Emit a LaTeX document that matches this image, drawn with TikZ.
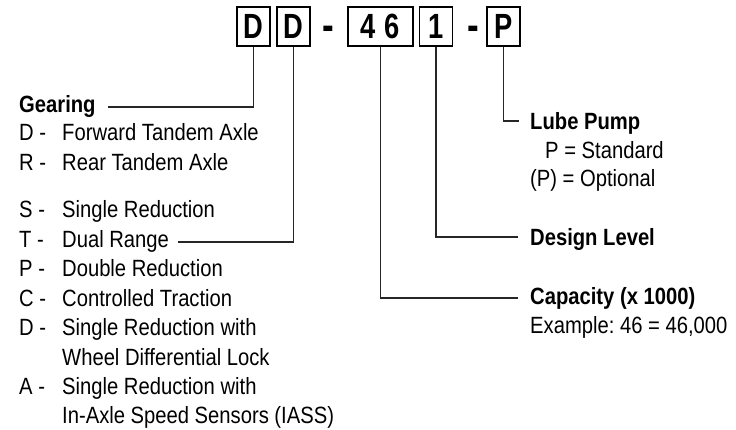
\documentclass[tikz,border=0pt]{standalone}
\usepackage{fontspec}
\setmainfont{Liberation Sans}[FakeStretch=0.86]
\newfontfamily\codefont{Liberation Sans}[FakeStretch=0.78]
\frenchspacing
\begin{document}
\begin{tikzpicture}[x=1pt,y=-1pt,
  lbl/.style={anchor=base west, inner sep=0pt, font=\fontsize{23.5}{28}\selectfont},
  hd/.style={anchor=base west, inner sep=0pt, font=\fontsize{23.5}{28}\selectfont\bfseries},
  codebox/.style={draw=black, line width=1.2pt, minimum height=39pt, minimum width=33pt, inner sep=0pt,
    font=\codefont\fontsize{35}{35}\selectfont\bfseries},
  codedash/.style={anchor=base, inner sep=0pt, font=\codefont\fontsize{45}{45}\selectfont\bfseries},
  conn/.style={draw=black!85, line width=1.2pt}]
\useasboundingbox (0,0) rectangle (736,430);
% code boxes
\node[codebox] (b1) at (253.5,26.5) {D};
\node[codebox] (b2) at (293.5,26.5) {D};
\node[codedash] (dash1) at (328,40.5) {-};
\node[codebox, minimum width=65pt] (b46) at (380.5,26.5) {4\hspace{9pt}6};
\node[codebox] (bl) at (436,26.5) {1};
\node[codedash] (dash2) at (473,40.5) {-};
\node[codebox] (bp) at (503.5,26.5) {P};
% left list
\node[hd] (gear) at (19,113) {Gearing};
\node[lbl] (l1) at (19,141) {\makebox[43pt][l]{D -}Forward Tandem Axle};
\node[lbl] (l2) at (19,170.5) {\makebox[43pt][l]{R -}Rear Tandem Axle};
\node[lbl] (l3) at (19,218) {\makebox[43pt][l]{S -}Single Reduction};
\node[lbl] (l4) at (19,247.5) {\makebox[43pt][l]{T -}Dual Range};
\node[lbl] (l5) at (19,277) {\makebox[43pt][l]{P -}Double Reduction};
\node[lbl] (l6) at (19,306) {\makebox[43pt][l]{C -}Controlled Traction};
\node[lbl] (l7) at (19,335.5) {\makebox[43pt][l]{D -}Single Reduction with};
\node[lbl] (l8) at (62,365) {Wheel Differential Lock};
\node[lbl] (l9) at (19,394) {\makebox[43pt][l]{A -}Single Reduction with};
\node[lbl] (l10) at (62,423) {In-Axle Speed Sensors (IASS)};
% right labels
\node[hd] (lube) at (530,130) {Lube Pump};
\node[lbl] (pstd) at (545,158.5) {P = Standard};
\node[lbl] (popt) at (530,187) {(P) = Optional};
\node[hd] (design) at (530,246) {Design Level};
\node[hd] (cap) at (530,305) {Capacity (x 1000)};
\node[lbl] (ex) at (530,334) {Example: 46 = 46,000};
% connector ends
\coordinate (eg) at (108,107);
\coordinate (et) at (178,242);
\coordinate (ec) at (518,298);
\coordinate (ed) at (518,237);
\coordinate (ep) at (519,121);
\draw[conn] (b1.south) |- (eg);
\draw[conn] (b2.south) |- (et);
\draw[conn] (b46.south) |- (ec);
\draw[conn] (bl.south) |- (ed);
\draw[conn] (bp.south) |- (ep);
\end{tikzpicture}
\end{document}
